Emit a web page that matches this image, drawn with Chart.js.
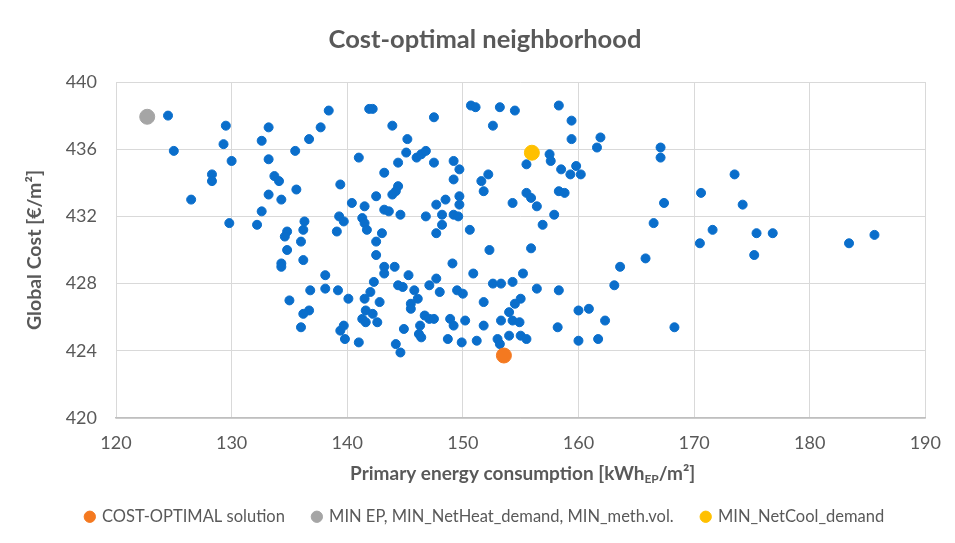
<!DOCTYPE html>
<html><head><meta charset="utf-8">
<script src="https://cdn.jsdelivr.net/npm/chart.js@4"></script>
<style>html,body{margin:0;padding:0;background:#fff}</style>
</head><body>
<canvas id="c" width="955" height="543" style="width:955px;height:543px;display:block"></canvas>
<script>
// ---- data ----
const solutionsX = [124.5,125.0,129.5,129.3,133.2,132.6,138.4,137.7,136.7,135.5,130.0,133.2,128.3,128.3,133.7,134.1,135.6,139.4,133.2,134.3,126.5,132.6,129.8,132.2,136.3,136.2,139.1,139.3,139.7,134.8,134.6,136.0,134.8,134.3,134.3,136.2,138.1,136.8,138.1,139.2,135.0,136.7,136.2,136.0,139.4,
141.9,142.2,143.9,147.5,150.7,151.1,153.2,154.5,152.6,145.2,141.0,145.1,146.0,146.4,146.8,144.4,147.5,149.2,149.7,149.2,143.2,144.4,144.2,143.9,142.5,140.4,141.5,143.2,143.6,144.6,147.7,148.5,149.7,149.7,148.2,149.2,149.6,146.8,141.3,141.5,141.7,143.0,148.2,147.7,150.6,142.5,142.5,
151.8,151.6,152.2,154.3,155.5,155.5,155.9,156.4,156.9,152.3,155.9,157.5,157.6,158.3,159.4,159.4,161.9,161.6,158.5,159.8,159.3,160.2,158.3,158.8,157.9,167.1,167.1,167.4,166.5,165.8,170.6,173.5,174.2,170.5,171.6,175.4,175.2,176.8,183.4,185.6,
143.2,143.2,144.1,145.3,149.1,150.9,142.3,140.1,141.5,142.0,142.8,144.4,144.8,145.8,146.1,145.5,145.5,147.1,147.7,148.0,149.5,150.0,151.8,152.6,153.3,154.3,155.2,156.4,155.0,154.5,154.0,154.3,154.9,153.3,
141.6,142.2,141.3,141.6,142.6,139.7,139.8,141.0,144.2,144.6,144.9,146.3,146.2,146.4,146.7,147.1,147.5,148.9,149.2,150.2,148.7,149.9,151.2,151.8,153.0,153.2,154.0,155.0,155.5,158.3,158.2,160.0,160.9,160.0,161.7,162.3,163.1,163.6,168.3];
const solutionsY = [438.0,435.9,437.4,436.3,437.3,436.5,438.3,437.3,436.6,435.9,435.3,435.4,434.5,434.1,434.4,434.1,433.6,433.9,433.3,433.0,433.0,432.3,431.6,431.5,431.7,431.2,431.1,432.0,431.7,431.1,430.8,430.5,430.0,429.2,429.0,429.4,428.5,427.6,427.7,427.6,427.0,426.4,426.2,425.4,425.2,
438.4,438.4,437.4,437.9,438.6,438.5,438.5,438.3,437.4,436.6,435.5,435.8,435.5,435.7,435.9,435.2,435.2,435.3,434.8,434.2,434.6,433.8,433.5,433.3,433.2,432.8,432.6,432.4,432.3,432.1,432.7,433.0,433.2,432.7,432.1,432.1,432.0,432.0,431.9,431.6,431.2,431.0,431.5,431.0,431.2,430.5,429.7,
433.5,434.1,434.5,432.8,435.1,433.4,433.1,432.6,431.5,430.0,430.1,435.7,435.3,438.6,437.7,436.6,436.7,436.1,434.8,435.0,434.5,434.5,433.5,433.4,432.1,436.1,435.5,432.8,431.6,429.5,433.4,434.5,432.7,430.4,431.2,431.0,429.7,431.0,430.4,430.9,
429.0,428.6,429.0,428.5,429.2,428.6,428.1,427.1,427.1,427.5,426.9,427.9,427.8,427.6,427.1,426.8,426.5,427.9,428.3,427.5,427.6,427.4,426.9,428.0,428.0,428.1,428.6,427.7,427.1,426.8,426.3,425.8,425.7,425.8,
426.4,426.2,425.9,425.7,425.7,425.5,424.7,424.5,424.4,423.9,425.3,425.5,425.0,424.8,426.1,425.9,425.9,425.9,425.5,425.8,424.7,424.5,424.6,425.5,424.7,424.4,424.9,424.9,424.7,427.6,425.4,426.4,426.5,424.6,424.7,425.8,427.9,429.0,425.4];
const costOptimalX = [153.55], costOptimalY = [423.72];
const minEpX = [122.7], minEpY = [437.93];
const minNetCoolX = [155.97], minNetCoolY = [435.79];
const xTicks = [120,130,140,150,160,170,180,190];
const yTicks = [420,424,428,432,436,440];
const seriesNames = ['COST-OPTIMAL solution','MIN EP, MIN_NetHeat_demand, MIN_meth.vol.','MIN_NetCool_demand'];

const pts = (xs, ys) => xs.map((x, i) => ({x, y: ys[i]}));
const FONT = 'Lato, "Open Sans", sans-serif';
const GREY = '#595959';

const xTitlePlugin = {
  id: 'xTitle',
  afterDraw(chart) {
    const ctx = chart.ctx, a = chart.chartArea;
    const parts = [
      {t: 'Primary energy consumption [kWh', f: 'bold 19px ' + FONT, dy: 0},
      {t: 'EP', f: 'bold 12px ' + FONT, dy: 5},
      {t: '/m²]', f: 'bold 19px ' + FONT, dy: 0}
    ];
    ctx.save();
    let w = 0;
    parts.forEach(p => { ctx.font = p.f; p.w = ctx.measureText(p.t).width; w += p.w; });
    let x = (a.left + a.right) / 2 + 2 - w / 2;
    const y = 474;
    ctx.fillStyle = GREY; ctx.textBaseline = 'middle'; ctx.textAlign = 'left';
    parts.forEach(p => { ctx.font = p.f; ctx.fillText(p.t, x, y + p.dy); x += p.w; });
    ctx.restore();
  }
};

new Chart(document.getElementById('c'), {
  type: 'scatter',
  data: {
    datasets: [
      {label: seriesNames[0], data: pts(costOptimalX, costOptimalY), backgroundColor: '#F47920', borderColor: '#F47920', pointRadius: 7.5, pointHoverRadius: 7.5},
      {label: seriesNames[1], data: pts(minEpX, minEpY), backgroundColor: '#A5A5A5', borderColor: '#A5A5A5', pointRadius: 7.5, pointHoverRadius: 7.5},
      {label: seriesNames[2], data: pts(minNetCoolX, minNetCoolY), backgroundColor: '#FFC000', borderColor: '#FFC000', pointRadius: 7.5, pointHoverRadius: 7.5},
      {label: 'solutions', data: pts(solutionsX, solutionsY), backgroundColor: '#0A6ECB', borderColor: '#0A6ECB', pointRadius: 4.5, pointHoverRadius: 4.5}
    ]
  },
  options: {
    responsive: false,
    animation: false,
    layout: {padding: {left: 44, right: 29, top: 0, bottom: 8}},
    plugins: {
      title: {display: true, text: 'Cost-optimal neighborhood', color: GREY, font: {family: FONT, size: 25.5, weight: 'bold'}, padding: {top: 24.7, bottom: 26.7}},
      legend: {
        position: 'bottom',
        labels: {
          filter: item => item.datasetIndex !== 3,
          usePointStyle: true, pointStyle: 'circle', boxWidth: 8, boxHeight: 8,
          color: GREY, font: {family: FONT, size: 16.5}, padding: 28
        }
      },
      tooltip: {enabled: false}
    },
    scales: {
      x: {
        type: 'linear', min: 120, max: 190,
        afterBuildTicks: s => { s.ticks = xTicks.map(v => ({value: v})); },
        afterFit: s => { s.height = 62.5; },
        grid: {color: '#D9D9D9', lineWidth: 1, drawTicks: false},
        border: {color: '#BFBFBF', width: 1.5},
        ticks: {color: GREY, font: {family: FONT, size: 18}, padding: 14}
      },
      y: {
        type: 'linear', min: 420, max: 440,
        afterBuildTicks: s => { s.ticks = yTicks.map(v => ({value: v})); },
        afterFit: s => { s.width = 72; },
        grid: {color: '#D9D9D9', lineWidth: 1, drawTicks: false},
        border: {display: false},
        ticks: {color: GREY, font: {family: FONT, size: 18}, padding: 19},
        title: {display: true, text: 'Global Cost [€/m²]', color: GREY, font: {family: FONT, size: 19.5, weight: 'bold'}, padding: {top: -20.7, bottom: 0}}
      }
    }
  },
  plugins: [xTitlePlugin]
});
</script>
</body></html>
